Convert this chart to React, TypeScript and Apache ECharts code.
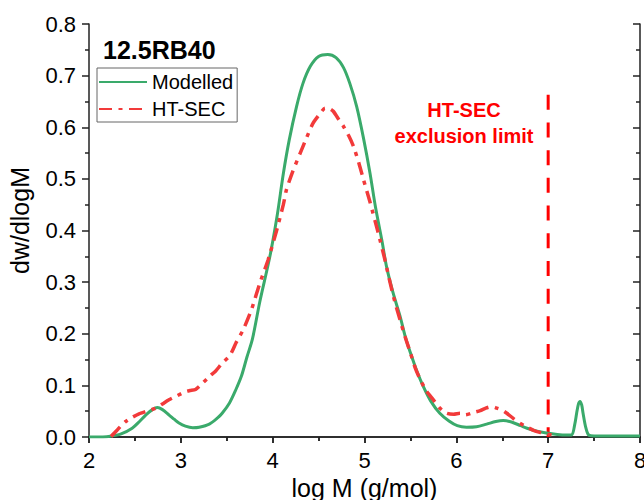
import React, { useEffect, useRef } from "react";
import * as echarts from "echarts";

const FONT = "'Liberation Sans', Arial, Helvetica, sans-serif";

const modelledX = [
  2.0, 2.15, 2.25, 2.35, 2.47, 2.55, 2.62, 2.69, 2.745, 2.8, 2.87, 2.93, 2.98, 3.05, 3.13, 3.2, 3.31, 3.4, 3.45,
  3.53, 3.6, 3.66, 3.72, 3.78, 3.86, 3.97, 4.05, 4.116, 4.18, 4.26, 4.33, 4.41, 4.5, 4.6, 4.69, 4.77, 4.84,
  4.915, 4.99, 5.06, 5.12, 5.19, 5.24, 5.31, 5.387, 5.44, 5.5, 5.57, 5.64, 5.72, 5.82, 5.92, 6.01, 6.11, 6.22,
  6.33, 6.43, 6.51, 6.6, 6.7, 6.77, 6.88, 6.98, 7.1, 7.2, 7.256, 7.29, 7.31, 7.33, 7.347, 7.365, 7.38, 7.41,
  7.44, 7.5, 8.0,
];
const modelledY = [
  0.0, 0.0, 0.002, 0.006, 0.017, 0.03, 0.043, 0.053, 0.057, 0.053, 0.043, 0.034, 0.027, 0.021, 0.018, 0.019,
  0.025, 0.037, 0.046, 0.066, 0.092, 0.118, 0.155, 0.19, 0.262, 0.35, 0.43, 0.51, 0.575, 0.64, 0.685, 0.718,
  0.737, 0.741, 0.735, 0.716, 0.685, 0.64, 0.578, 0.511, 0.445, 0.38, 0.33, 0.28, 0.234, 0.197, 0.163, 0.128,
  0.098, 0.07, 0.046, 0.031, 0.022, 0.019, 0.02, 0.025, 0.03, 0.032, 0.029, 0.022, 0.017, 0.011, 0.0077, 0.005,
  0.004, 0.004, 0.025, 0.046, 0.064, 0.069, 0.062, 0.046, 0.018, 0.004, 0.002, 0.002,
];

const htsecX = [
  2.24, 2.3, 2.345, 2.4, 2.47, 2.545, 2.63, 2.73, 2.8, 2.87, 2.96, 3.05, 3.1, 3.16, 3.23, 3.31, 3.38, 3.45,
  3.535, 3.6, 3.68, 3.77, 3.86, 3.95, 4.04, 4.116, 4.15, 4.22, 4.3, 4.37, 4.44, 4.51, 4.57, 4.62, 4.66, 4.72,
  4.77, 4.83, 4.88, 4.94, 4.99, 5.06, 5.15, 5.22, 5.28, 5.33, 5.387, 5.44, 5.5, 5.55, 5.6, 5.67, 5.75, 5.82,
  5.895, 5.97, 6.04, 6.1, 6.18, 6.26, 6.32, 6.385, 6.44, 6.5, 6.55, 6.62, 6.69, 6.77, 6.84, 6.91, 6.98, 7.09,
];
const htsecY = [
  0.001, 0.012, 0.021, 0.03, 0.038, 0.045, 0.05, 0.056, 0.064, 0.072, 0.08, 0.088, 0.09, 0.092, 0.103, 0.117,
  0.128, 0.143, 0.158, 0.182, 0.208, 0.247, 0.298, 0.343, 0.398, 0.45, 0.479, 0.515, 0.55, 0.58, 0.608, 0.625,
  0.637, 0.636, 0.631, 0.615, 0.602, 0.583, 0.563, 0.53, 0.498, 0.455, 0.395, 0.345, 0.298, 0.262, 0.227, 0.195,
  0.163, 0.135, 0.114, 0.09, 0.072, 0.056, 0.046, 0.044, 0.046, 0.043, 0.047, 0.051, 0.056, 0.059, 0.056, 0.052,
  0.046, 0.036, 0.027, 0.019, 0.013, 0.009, 0.006, 0.002,
];

const limitX = [7, 7];
const limitY = [0.663, 0];

const titleText = "12.5RB40";
const noteLines = ["HT-SEC", "exclusion limit"];
const seriesNames = ["Modelled", "HT-SEC"];

const zip = (xs: number[], ys: number[]) => xs.map((x, i) => [x, ys[i]]);

export default function App() {
  const ref = useRef<HTMLDivElement>(null);
  useEffect(() => {
    if (!ref.current) return;
    document.body.style.margin = "0";
    document.body.style.overflow = "hidden";
    const chart = echarts.init(ref.current, undefined, { renderer: "svg", width: 644, height: 500 });
    const axisLine = { show: true, lineStyle: { color: "#222", width: 1.5 } };
    const labelStyle = { fontFamily: FONT, fontSize: 22, color: "#000" };
    chart.setOption({
      animation: false,
      backgroundColor: "#fff",
      grid: { left: 89, right: 4, top: 24, bottom: 63, containLabel: false, outerBoundsMode: "none" },
      legend: {
        data: seriesNames,
        orient: "vertical",
        left: 97,
        top: 68,
        itemWidth: 48,
        itemHeight: 14,
        itemGap: 7,
        borderColor: "#666",
        borderWidth: 1,
        borderRadius: 0,
        padding: [4, 4, 3, 1],
        itemStyle: { opacity: 0 },
        textStyle: { fontFamily: FONT, fontSize: 20, color: "#000" },
      },
      xAxis: [
        {
          type: "value",
          min: 2,
          max: 8,
          interval: 1,
          name: "log M (g/mol)",
          nameLocation: "middle",
          nameGap: 37,
          nameTextStyle: { fontFamily: FONT, fontSize: 25, color: "#000" },
          axisLine,
          axisTick: { show: true, inside: false, length: 6, lineStyle: { color: "#222", width: 1.5 } },
          minorTick: { show: true, splitNumber: 2, length: 4, lineStyle: { color: "#222", width: 1.5 } },
          splitLine: { show: false },
          axisLabel: { ...labelStyle, margin: 12 },
        },
        {
          type: "value",
          position: "top",
          min: 2,
          max: 8,
          interval: 1,
          axisLine,
          axisTick: { show: true, inside: true, length: 6, lineStyle: { color: "#222", width: 1.5 } },
          minorTick: { show: true, splitNumber: 2, length: 4, lineStyle: { color: "#222", width: 1.5 } },
          splitLine: { show: false },
          axisLabel: { show: false },
        },
      ],
      yAxis: [
        {
          type: "value",
          min: 0,
          max: 0.8,
          interval: 0.1,
          name: "dw/dlogM",
          nameLocation: "middle",
          nameGap: 57,
          nameTextStyle: { fontFamily: FONT, fontSize: 25, color: "#000", padding: [0, 0, 0, 20] },
          axisLine,
          axisTick: { show: true, inside: false, length: 7, lineStyle: { color: "#222", width: 1.5 } },
          minorTick: { show: true, splitNumber: 2, length: 4, lineStyle: { color: "#222", width: 1.5 } },
          splitLine: { show: false },
          axisLabel: { ...labelStyle, margin: 13, formatter: (v: number) => v.toFixed(1) },
        },
        {
          type: "value",
          position: "right",
          min: 0,
          max: 0.8,
          interval: 0.1,
          axisLine,
          axisTick: { show: true, inside: true, length: 7, lineStyle: { color: "#222", width: 1.5 } },
          minorTick: { show: true, splitNumber: 2, length: 4, lineStyle: { color: "#222", width: 1.5 } },
          splitLine: { show: false },
          axisLabel: { show: false },
        },
      ],
      series: [
        {
          name: "Modelled",
          type: "line",
          data: zip(modelledX, modelledY),
          showSymbol: false,
          symbol: "none",
          smooth: 0.3,
          color: "#3aaa6b",
          itemStyle: { opacity: 0 },
          lineStyle: { color: "#3aaa6b", width: 3 },
          z: 3,
        },
        {
          name: "HT-SEC",
          type: "line",
          data: zip(htsecX, htsecY),
          showSymbol: false,
          symbol: "none",
          smooth: 0.2,
          color: "#f23a3a",
          itemStyle: { opacity: 0 },
          lineStyle: { color: "#f23a3a", width: 3.5, type: [13, 6.5, 4, 6.5] },
          z: 4,
        },
        {
          name: "limit",
          type: "line",
          data: zip(limitX, limitY),
          showSymbol: false,
          symbol: "none",
          color: "#ff0000",
          lineStyle: { color: "#ff0000", width: 3, type: [15, 12.7] },
          z: 2,
        },
      ],
      graphic: [
        {
          type: "text",
          left: 103,
          top: 37,
          style: { text: titleText, fontFamily: FONT, fontSize: 25, fontWeight: "bold", fill: "#000" },
        },
        {
          type: "text",
          x: 464,
          y: 110,
          style: {
            text: noteLines[0],
            fontFamily: FONT,
            fontSize: 20,
            fontWeight: "bold",
            fill: "#ff0000",
            textAlign: "center",
            textVerticalAlign: "middle",
          },
        },
        {
          type: "text",
          x: 464,
          y: 136,
          style: {
            text: noteLines[1],
            fontFamily: FONT,
            fontSize: 20,
            fontWeight: "bold",
            fill: "#ff0000",
            textAlign: "center",
            textVerticalAlign: "middle",
          },
        },
      ],
    });
    return () => chart.dispose();
  }, []);
  return <div ref={ref} style={{ width: 644, height: 500, background: "#fff" }} />;
}
